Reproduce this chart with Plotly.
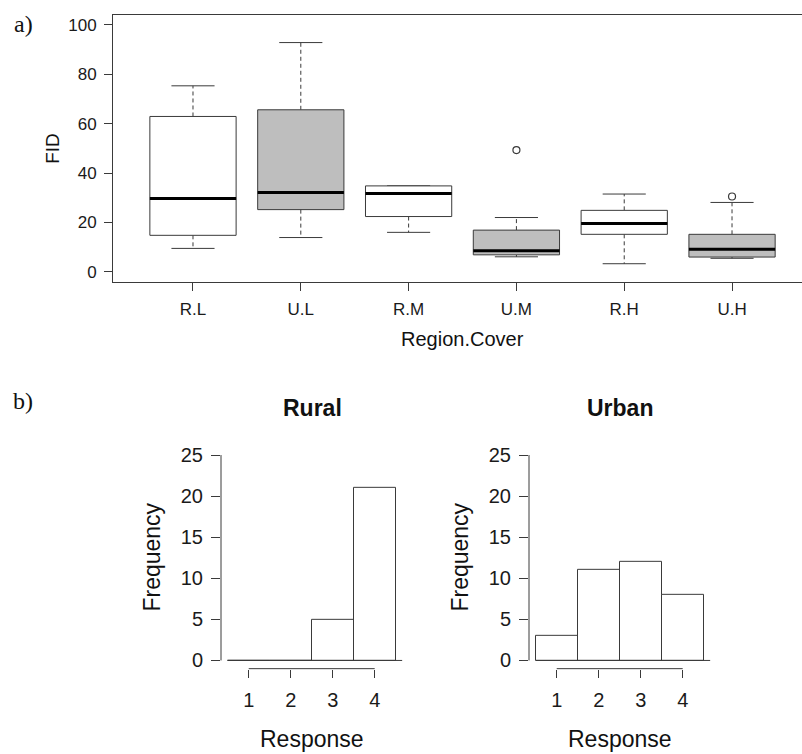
import plotly.graph_objects as go

# ---------------- data ----------------
categories = ["R.L", "U.L", "R.M", "U.M", "R.H", "U.H"]
lower_whisker = [9.5, 13.9, 16.0, 6.1, 3.3, 5.5]
q1 = [14.8, 25.2, 22.4, 6.9, 15.2, 6.0]
median = [29.7, 32.1, 31.7, 8.5, 19.6, 9.2]
q3 = [62.9, 65.6, 34.8, 16.9, 24.9, 15.2]
upper_whisker = [75.3, 92.8, 34.8, 22.0, 31.5, 28.1]
outlier_cat = ["U.M", "U.H"]
outlier_val = [49.3, 30.5]

response_levels = [1, 2, 3, 4]
rural_counts = [0, 0, 5, 21]
urban_counts = [3, 11, 12, 8]

# ---------------- styles ----------------
W, H = 802, 754
FONT = "Liberation Sans, Arial, sans-serif"
SERIF = "Liberation Serif, Times New Roman, serif"
LINE = "#3a3a3a"
GRAY_FILL = "#BEBEBE"
HALF = 0.4     # half box width
STAPLE = 0.2   # half staple width

def px_x(p):
    return p / W

def px_y(p):
    return 1 - p / H

fig = go.Figure()

# ---------------- box plot (panel a) ----------------
for i, cat in enumerate(categories):
    x = i + 1
    fill = GRAY_FILL if cat.startswith("U") else "white"
    fig.add_trace(go.Scatter(
        x=[x, x, None, x, x],
        y=[q3[i], upper_whisker[i], None, q1[i], lower_whisker[i]],
        mode="lines", line=dict(color=LINE, width=1, dash="4px,3px"),
        xaxis="x", yaxis="y", showlegend=False, hoverinfo="skip"))
    fig.add_trace(go.Scatter(
        x=[x - STAPLE, x + STAPLE, None, x - STAPLE, x + STAPLE],
        y=[upper_whisker[i], upper_whisker[i], None, lower_whisker[i], lower_whisker[i]],
        mode="lines", line=dict(color=LINE, width=1),
        xaxis="x", yaxis="y", showlegend=False, hoverinfo="skip"))
    fig.add_trace(go.Scatter(
        x=[x - HALF, x + HALF, x + HALF, x - HALF, x - HALF],
        y=[q1[i], q1[i], q3[i], q3[i], q1[i]],
        mode="lines", fill="toself", fillcolor=fill,
        line=dict(color=LINE, width=1),
        xaxis="x", yaxis="y", showlegend=False, name=cat))
    fig.add_trace(go.Scatter(
        x=[x - HALF, x + HALF], y=[median[i], median[i]],
        mode="lines", line=dict(color="black", width=3),
        xaxis="x", yaxis="y", showlegend=False, hoverinfo="skip"))

fig.add_trace(go.Scatter(
    x=[categories.index(c) + 1 for c in outlier_cat], y=outlier_val,
    mode="markers", marker=dict(symbol="circle-open", size=7, color=LINE, line=dict(width=1.2)),
    xaxis="x", yaxis="y", showlegend=False))

# ---------------- histograms (panel b) ----------------
for counts, xa, ya in [(rural_counts, "x2", "y2"), (urban_counts, "x3", "y3")]:
    fig.add_trace(go.Bar(
        x=response_levels, y=counts, width=1,
        marker=dict(color="white", line=dict(color=LINE, width=1)),
        xaxis=xa, yaxis=ya, showlegend=False))
    fig.add_shape(type="line", xref=xa, yref=ya,
                  x0=response_levels[0] - 0.5, x1=response_levels[-1] + 0.66, y0=0, y1=0,
                  line=dict(color=LINE, width=1))
    fig.add_shape(type="line", xref=xa, yref=ya + " domain",
                  x0=response_levels[0], x1=response_levels[-1], y0=0, y1=0,
                  line=dict(color=LINE, width=1))
    fig.add_shape(type="line", xref=xa + " domain", yref=ya,
                  x0=0, x1=0, y0=0, y1=25,
                  line=dict(color=LINE, width=1))

tickfont_a = dict(family=FONT, size=17, color="#1a1a1a")
tickfont_b = dict(family=FONT, size=20, color="#1a1a1a")

fig.update_layout(
    width=W, height=H,
    margin=dict(l=0, r=0, t=0, b=0),
    paper_bgcolor="white", plot_bgcolor="white",
    bargap=0,
    xaxis=dict(domain=[px_x(113), 1.0], range=[0.258, 6.649],
               tickvals=[i + 1 for i in range(len(categories))], ticktext=categories,
               ticks="outside", ticklen=8, tickcolor=LINE, tickfont=tickfont_a,
               showline=True, mirror=True, linecolor=LINE, linewidth=1,
               showgrid=False, zeroline=False, anchor="y", ticklabelstandoff=4),
    yaxis=dict(domain=[px_y(281), px_y(12)], range=[-4, 104],
               tickvals=[0, 20, 40, 60, 80, 100],
               ticks="outside", ticklen=8, tickcolor=LINE, tickfont=tickfont_a,
               showline=True, linecolor=LINE, linewidth=1,
               showgrid=False, zeroline=False, anchor="x", ticklabelstandoff=4),
    xaxis2=dict(domain=[px_x(221), px_x(402.4)], range=[0.34, 4.66],
                tickvals=response_levels, ticks="outside", ticklen=8, tickcolor=LINE,
                tickfont=tickfont_b, showline=False, showgrid=False, zeroline=False,
                anchor="y2", ticklabelstandoff=5),
    yaxis2=dict(domain=[px_y(671), px_y(447.4)], range=[-1, 26],
                tickvals=[0, 5, 10, 15, 20, 25], ticks="outside", ticklen=9, tickcolor=LINE,
                tickfont=tickfont_b, showline=False, showgrid=False, zeroline=False,
                anchor="x2", ticklabelstandoff=4),
    xaxis3=dict(domain=[px_x(529), px_x(710.4)], range=[0.34, 4.66],
                tickvals=response_levels, ticks="outside", ticklen=8, tickcolor=LINE,
                tickfont=tickfont_b, showline=False, showgrid=False, zeroline=False,
                anchor="y3", ticklabelstandoff=5),
    yaxis3=dict(domain=[px_y(671), px_y(447.4)], range=[-1, 26],
                tickvals=[0, 5, 10, 15, 20, 25], ticks="outside", ticklen=9, tickcolor=LINE,
                tickfont=tickfont_b, showline=False, showgrid=False, zeroline=False,
                anchor="x3", ticklabelstandoff=4),
)

def ann(text, x, y, size, family=FONT, bold=False, angle=0):
    fig.add_annotation(text=f"<b>{text}</b>" if bold else text,
                       x=px_x(x), y=px_y(y), xref="paper", yref="paper",
                       showarrow=False, xanchor="center", yanchor="middle",
                       textangle=angle, font=dict(family=family, size=size, color="#111"))

ann("a)", 23, 21, 24, family=SERIF)
ann("b)", 23, 401, 24, family=SERIF)
ann("FID", 53, 147, 19, angle=-90)
ann("Region.Cover", 462, 339, 20)
ann("Rural", 312, 408, 23, bold=True)
ann("Urban", 620, 408, 23, bold=True)
ann("Frequency", 152, 559, 23, angle=-90)
ann("Frequency", 460, 559, 23, angle=-90)
ann("Response", 312, 742, 23)
ann("Response", 620, 742, 23)

fig.write_html("out.html", config={"displayModeBar": False},
               post_script="document.body.style.margin='0';document.body.style.overflow='hidden';")
